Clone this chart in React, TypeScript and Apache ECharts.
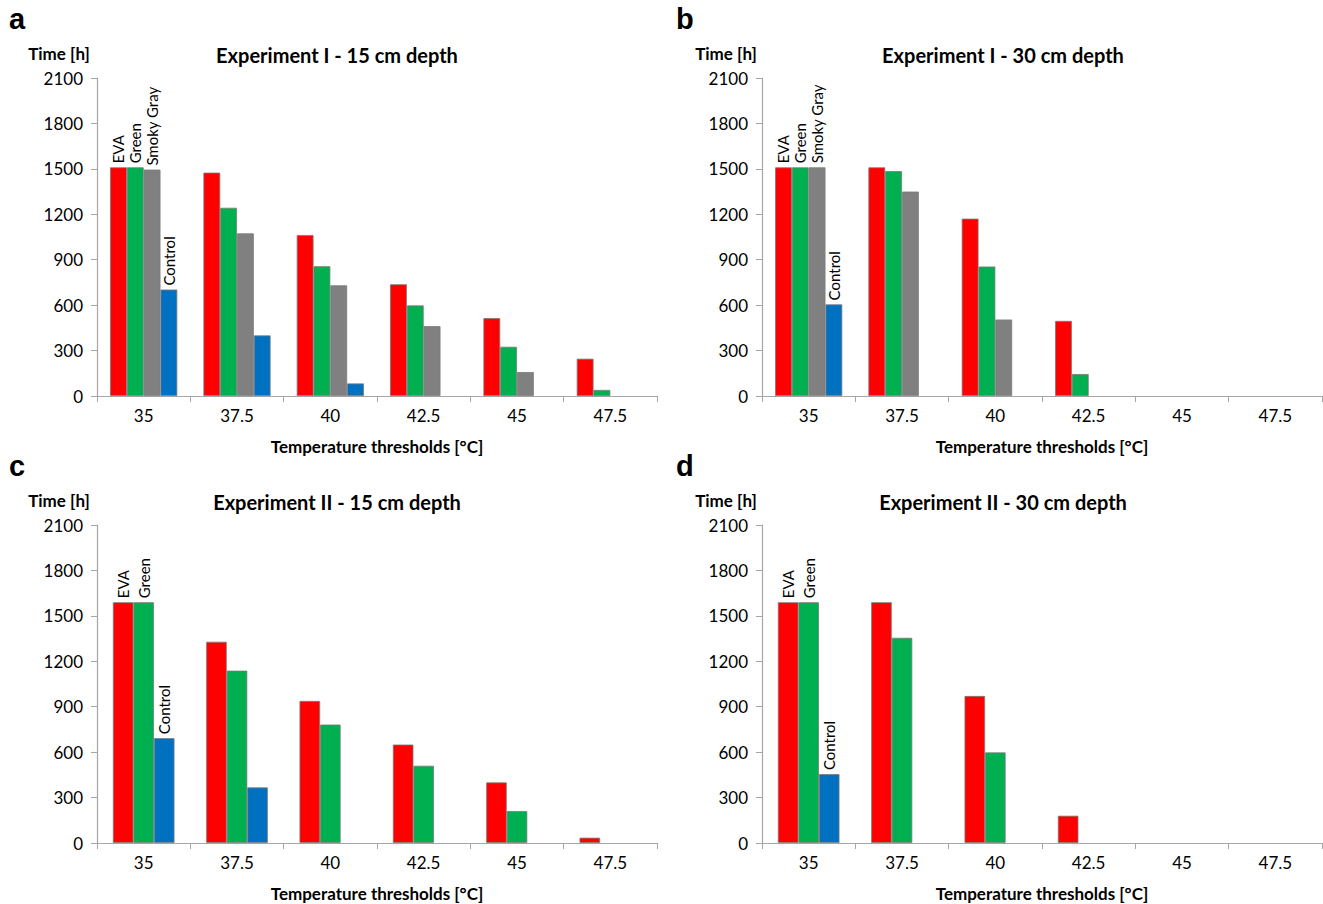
import React, { useEffect, useRef } from "react";
import * as echarts from "echarts";

const categories = ["35", "37.5", "40", "42.5", "45", "47.5"];
const yMin = 0;
const yMax = 2100;
const yStep = 300;

// Experiment I - 15 cm
const aEVA = [1510, 1475, 1063, 738, 514, 246];
const aGreen = [1510, 1243, 857, 598, 325, 40];
const aGray = [1495, 1074, 731, 461, 158, null];
const aControl = [703, 400, 83, null, null, null];

// Experiment I - 30 cm
const bEVA = [1510, 1510, 1171, 496, null, null];
const bGreen = [1510, 1485, 855, 145, null, null];
const bGray = [1510, 1350, 505, null, null, null];
const bControl = [605, null, null, null, null, null];

// Experiment II - 15 cm
const cEVA = [1590, 1329, 938, 650, 400, 35];
const cGreen = [1590, 1138, 782, 510, 211, null];
const cControl = [692, 367, null, null, null, null];

// Experiment II - 30 cm
const dEVA = [1590, 1590, 971, 180, null, null];
const dGreen = [1590, 1355, 598, null, null, null];
const dControl = [455, null, null, null, null, null];

const panelLetters = ["a", "b", "c", "d"];
const panelTitles = [
  "Experiment I - 15 cm depth",
  "Experiment I - 30 cm depth",
  "Experiment II - 15 cm depth",
  "Experiment II - 30 cm depth",
];
const yAxisTitle = "Time [h]";
const xAxisTitle = "Temperature thresholds [°C]";

const COLORS: Record<string, string> = {
  EVA: "#FF0000",
  Green: "#00B050",
  "Smoky Gray": "#808080",
  Control: "#0070C0",
};

const panelSeries: { name: string; data: (number | null)[] }[][] = [
  [
    { name: "EVA", data: aEVA },
    { name: "Green", data: aGreen },
    { name: "Smoky Gray", data: aGray },
    { name: "Control", data: aControl },
  ],
  [
    { name: "EVA", data: bEVA },
    { name: "Green", data: bGreen },
    { name: "Smoky Gray", data: bGray },
    { name: "Control", data: bControl },
  ],
  [
    { name: "EVA", data: cEVA },
    { name: "Green", data: cGreen },
    { name: "Control", data: cControl },
  ],
  [
    { name: "EVA", data: dEVA },
    { name: "Green", data: dGreen },
    { name: "Control", data: dControl },
  ],
];

const FONT = "Lato, 'Open Sans', sans-serif";

export default function App() {
  const ref = useRef<HTMLDivElement>(null);
  useEffect(() => {
    document.body.style.margin = "0";
    if (!ref.current) return;
    const chart = echarts.init(ref.current, undefined, { renderer: "svg" });

    const gridPos = [
      { left: 97, top: 78 },
      { left: 762, top: 78 },
      { left: 97, top: 525 },
      { left: 762, top: 525 },
    ];
    const GW = 560;
    const GH = 318;
    const axisColor = "#A6A6A6";

    const grid = gridPos.map((g) => ({ left: g.left, top: g.top, width: GW, height: GH }));
    const xAxis = gridPos.map((_, i) => ({
      type: "category",
      gridIndex: i,
      data: categories,
      boundaryGap: true,
      axisLine: { lineStyle: { color: axisColor, width: 1.2 } },
      axisTick: { show: true, length: 6, lineStyle: { color: axisColor } },
      axisLabel: { color: "#000", fontSize: 17, fontFamily: FONT, margin: 11 },
      name: xAxisTitle,
      nameLocation: "middle",
      nameGap: 42,
      nameTextStyle: { color: "#000", fontSize: 17, fontWeight: "bold", fontFamily: FONT },
    }));
    const yAxis = gridPos.map((_, i) => ({
      type: "value",
      gridIndex: i,
      min: yMin,
      max: yMax,
      interval: yStep,
      axisLine: { show: true, lineStyle: { color: axisColor, width: 1.2 } },
      axisTick: { show: true, length: 6, lineStyle: { color: axisColor } },
      splitLine: { show: false },
      axisLabel: {
        color: "#000",
        fontSize: 17,
        fontFamily: FONT,
        margin: 14,
        formatter: (v: number) => String(v),
      },
    }));

    const series: any[] = [];
    panelSeries.forEach((list, pi) => {
      list.forEach((s) => {
        series.push({
          type: "bar",
          name: s.name,
          xAxisIndex: pi,
          yAxisIndex: pi,
          barGap: "0%",
          barCategoryGap: list.length === 4 ? "28%" : "34%",
          itemStyle: { color: COLORS[s.name], borderColor: "#7a7a7a", borderWidth: 0.8 },
          data: s.data.map((v, i) =>
            i === 0 && v != null
              ? {
                  value: v,
                  label: {
                    show: true,
                    position: "top",
                    rotate: 90,
                    align: "left",
                    verticalAlign: "middle",
                    distance: 4,
                    formatter: s.name,
                    color: "#000",
                    fontSize: 15,
                    fontFamily: FONT,
                  },
                }
              : v == null
              ? "-"
              : v
          ),
        });
      });
    });

    const titleCenters = [
      { x: 337, y: 55 },
      { x: 1003, y: 55 },
      { x: 337, y: 502 },
      { x: 1003, y: 502 },
    ];
    const letterPos = [
      { x: 9, y: 20 },
      { x: 676, y: 20 },
      { x: 9, y: 467 },
      { x: 676, y: 467 },
    ];
    const timePos = [
      { x: 59, y: 53 },
      { x: 726, y: 53 },
      { x: 59, y: 500 },
      { x: 726, y: 500 },
    ];

    const graphic: any[] = [];
    for (let i = 0; i < 4; i++) {
      graphic.push({
        type: "text",
        left: letterPos[i].x,
        top: letterPos[i].y - 16,
        style: {
          text: panelLetters[i],
          font: "bold 29px 'Liberation Sans', Arial, sans-serif",
          fill: "#000",
        },
      });
      graphic.push({
        type: "text",
        x: titleCenters[i].x,
        y: titleCenters[i].y,
        style: {
          text: panelTitles[i],
          fontSize: 20,
          fontWeight: "bold",
          fontFamily: FONT,
          fill: "#000",
          align: "center",
          verticalAlign: "middle",
        },
      });
      graphic.push({
        type: "text",
        x: timePos[i].x,
        y: timePos[i].y,
        style: {
          text: yAxisTitle,
          fontSize: 17,
          fontWeight: "bold",
          fontFamily: FONT,
          fill: "#000",
          align: "center",
          verticalAlign: "middle",
        },
      });
    }

    chart.setOption({
      animation: false,
      backgroundColor: "#fff",
      grid,
      xAxis,
      yAxis,
      series,
      graphic,
    });
    return () => chart.dispose();
  }, []);
  return <div ref={ref} style={{ width: 1323, height: 904 }} />;
}
